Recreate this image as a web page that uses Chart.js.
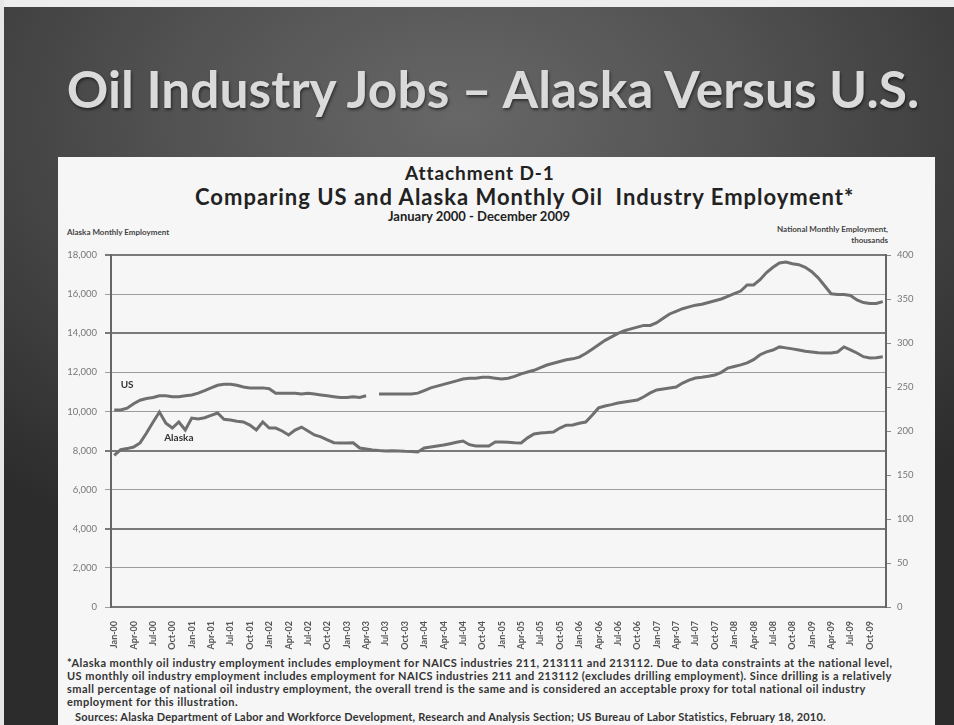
<!DOCTYPE html>
<html lang="en">
<head>
<meta charset="UTF-8" />
<title>Oil Industry Jobs - Alaska Versus U.S.</title>
<style>
  body {
    margin: 0;
    width: 954px;
    height: 725px;
    overflow: hidden;
    position: relative;
    font-family: Lato, 'Open Sans', sans-serif;
    background: radial-gradient(ellipse 75% 65% at 48% 16%, #676767 0%, #525252 40%, #3a3a3a 78%, #2c2c2c 100%);
  }
  .edge-top { position: absolute; left: 0; top: 0; width: 954px; height: 7px; background: #ededed; }
  .edge-left { position: absolute; left: 0; top: 0; width: 4px; height: 725px; background: #e6e6e6; }
  h1 {
    position: absolute;
    left: 16px;
    top: 58px;
    width: 954px;
    margin: 0;
    text-align: center;
    font-size: 51.5px;
    line-height: 60px;
    font-weight: 700;
    color: #dadada;
    text-shadow: 1px 2px 3px rgba(0,0,0,0.5);
  }
  .panel {
    position: absolute;
    left: 58px;
    top: 157px;
    width: 877px;
    height: 568px;
    background: #f6f6f6;
    color: #222;
  }
  .panel .head {
    position: absolute;
    font-weight: 700;
    white-space: nowrap;
  }
  .h-a { left: 347px; top: 5px; font-size: 19px; line-height: 22px; letter-spacing: 0.9px; }
  .h-b { left: 137px; top: 27px; font-size: 22px; line-height: 26px; letter-spacing: 1px; }
  .h-c { left: 330px; top: 51px; font-size: 13px; line-height: 16px; }
  .axis-note {
    position: absolute;
    font-size: 8px;
    font-weight: 700;
    color: #444;
    white-space: nowrap;
    line-height: 11px;
  }
  .note-left { left: 9px; top: 70px; }
  .note-right { right: 47px; top: 67px; text-align: right; }
  #chartBox {
    position: absolute;
    left: 0;
    top: 65px;
    width: 877px;
    height: 430px;
  }
  .foot {
    position: absolute;
    left: 9px;
    top: 499px;
    font-size: 11px;
    line-height: 13px;
    letter-spacing: 0.45px;
    font-weight: 700;
    color: #333;
    white-space: nowrap;
  }
  .foot .src { padding-left: 8px; margin-top: 2px; letter-spacing: 0.2px; }
</style>
</head>
<body>
  <div class="edge-top"></div>
  <div class="edge-left"></div>
  <h1>Oil Industry Jobs &ndash; Alaska Versus U.S.</h1>
  <div class="panel">
    <div class="head h-a">Attachment D-1</div>
    <div class="head h-b">Comparing US and Alaska Monthly Oil&nbsp; Industry Employment*</div>
    <div class="head h-c">January 2000 - December 2009</div>
    <div class="axis-note note-left">Alaska Monthly Employment</div>
    <div class="axis-note note-right">National Monthly Employment,<br>thousands</div>
    <div id="chartBox"><canvas id="jobsChart"></canvas></div>
    <div class="foot">
      <div>*Alaska monthly oil industry employment includes employment for NAICS industries 211, 213111 and 213112. Due to data constraints at the national level,</div>
      <div>US monthly oil industry employment includes employment for NAICS industries 211 and 213112 (excludes drilling employment). Since drilling is a relatively</div>
      <div>small percentage of national oil industry employment, the overall trend is the same and is considered an acceptable proxy for total national oil industry</div>
      <div>employment for this illustration.</div>
      <div class="src">Sources: Alaska Department of Labor and Workforce Development, Research and Analysis Section; US Bureau of Labor Statistics, February 18, 2010.</div>
    </div>
  </div>

  <script src="https://cdn.jsdelivr.net/npm/chart.js"></script>
  <script>
    // month labels Jan-00 .. Dec-09
    const monthNames = ['Jan', 'Feb', 'Mar', 'Apr', 'May', 'Jun', 'Jul', 'Aug', 'Sep', 'Oct', 'Nov', 'Dec'];
    const yearCodes = ['00', '01', '02', '03', '04', '05', '06', '07', '08', '09'];
    const categories = [];
    yearCodes.forEach(y => monthNames.forEach(m => categories.push(m + '-' + y)));

    // Alaska monthly oil industry employment (left axis, jobs)
    const alaskaJobs = [
      7750, 8050, 8100, 8180, 8390, 8900, 9450, 9970, 9400, 9150, 9460, 9050,
      9660, 9620, 9680, 9800, 9920, 9600, 9560, 9500, 9460, 9300, 9050, 9460,
      9150, 9150, 9000, 8800, 9050, 9200, 9000, 8800, 8700, 8550, 8400, 8390,
      8390, 8400, 8130, 8080, 8030, 8000, 7980, 7990, 7980, 7960, 7950, 7930,
      8130, 8180, 8230, 8280, 8350, 8420, 8490, 8300, 8230, 8230, 8230, 8440,
      8440, 8420, 8400, 8390, 8650, 8850, 8900, 8920, 8950, 9150, 9300, 9310,
      9400, 9460, 9800, 10180, 10280, 10350, 10430, 10480, 10530, 10580, 10750, 10950,
      11100, 11150, 11200, 11250, 11450, 11600, 11710, 11750, 11800, 11860, 12000, 12220,
      12300, 12380, 12480, 12650, 12900, 13050, 13140, 13300, 13250, 13200, 13140, 13080,
      13040, 13000, 12990, 12990, 13040, 13300, 13150, 12990, 12800, 12730, 12750, 12800
    ];

    // US monthly oil industry employment (right axis, thousands); May-03 missing
    const usJobs = [
      224, 224, 226, 231, 235, 237, 238, 240, 240, 239, 239, 240,
      241, 243, 246, 249, 252, 253, 253, 252, 250, 249, 249, 249,
      248, 243, 243, 243, 243, 242, 243, 242, 241, 240, 239, 238,
      238, 239, 238, 240, null, 242, 242, 242, 242, 242, 242, 243,
      246, 249, 251, 253, 255, 257, 259, 260, 260, 261, 261, 260,
      259, 260, 262, 265, 267, 269, 272, 275, 277, 279, 281, 282,
      284, 288, 293, 298, 303, 307, 311, 314, 316, 318, 320, 320,
      323, 328, 333, 336, 339, 341, 343, 344, 346, 348, 350, 353,
      356, 359, 366, 366, 372, 380, 386, 391, 392, 390, 389, 386,
      381, 374, 365, 356, 355, 355, 354, 349, 346, 345, 345, 347
    ];

    const heavyGrid = [4000, 8000, 14000, 18000];
    const lineGrey = '#6f6f6f';

    const seriesTags = {
      id: 'seriesTags',
      afterDatasetsDraw(chart) {
        const { ctx, scales } = chart;
        ctx.save();
        ctx.font = 'bold 10px Lato';
        ctx.fillStyle = '#333';
        ctx.textAlign = 'center';
        ctx.textBaseline = 'middle';
        ctx.fillText('US', scales.x.getPixelForValue(2), scales.y1.getPixelForValue(253));
        ctx.fillText('Alaska', scales.x.getPixelForValue(10), scales.y.getPixelForValue(8650));
        ctx.restore();
      }
    };

    new Chart(document.getElementById('jobsChart'), {
      type: 'line',
      data: {
        labels: categories,
        datasets: [
          { label: 'US', data: usJobs, yAxisID: 'y1', borderColor: lineGrey, borderWidth: 3, pointRadius: 0, tension: 0, spanGaps: false },
          { label: 'Alaska', data: alaskaJobs, yAxisID: 'y', borderColor: lineGrey, borderWidth: 3, pointRadius: 0, tension: 0 }
        ]
      },
      options: {
        responsive: true,
        maintainAspectRatio: false,
        animation: false,
        layout: { padding: { top: 33, left: 0, right: 0, bottom: 0 } },
        plugins: { legend: { display: false }, tooltip: { enabled: false } },
        scales: {
          x: {
            offset: true,
            grid: { display: false },
            border: { color: '#777', width: 2 },
            afterFit(scale) { scale.height = 45; },
            ticks: {
              autoSkip: false,
              minRotation: 90,
              maxRotation: 90,
              padding: 6,
              color: '#555',
              font: { family: 'Lato', size: 9, weight: 'bold' },
              callback: (v, i) => (i % 3 === 0 ? categories[i] : null)
            }
          },
          y: {
            position: 'left',
            min: 0,
            max: 18000,
            afterFit(scale) { scale.width = 53; },
            border: { color: '#666', width: 2 },
            grid: {
              tickLength: 6,
              color: c => (heavyGrid.includes(c.tick.value) ? '#7a7a7a' : '#9c9c9c'),
              lineWidth: c => (heavyGrid.includes(c.tick.value) ? 2 : 1)
            },
            ticks: {
              stepSize: 2000,
              padding: 8,
              color: '#777',
              font: { family: 'Lato', size: 9.5 }
            }
          },
          y1: {
            position: 'right',
            min: 0,
            max: 400,
            afterFit(scale) { scale.width = 49; },
            border: { color: '#666', width: 2 },
            grid: { drawOnChartArea: false, tickLength: 5, color: '#888' },
            ticks: {
              stepSize: 50,
              padding: 6,
              color: '#777',
              font: { family: 'Lato', size: 9.5 }
            }
          }
        }
      },
      plugins: [seriesTags]
    });
  </script>
</body>
</html>
